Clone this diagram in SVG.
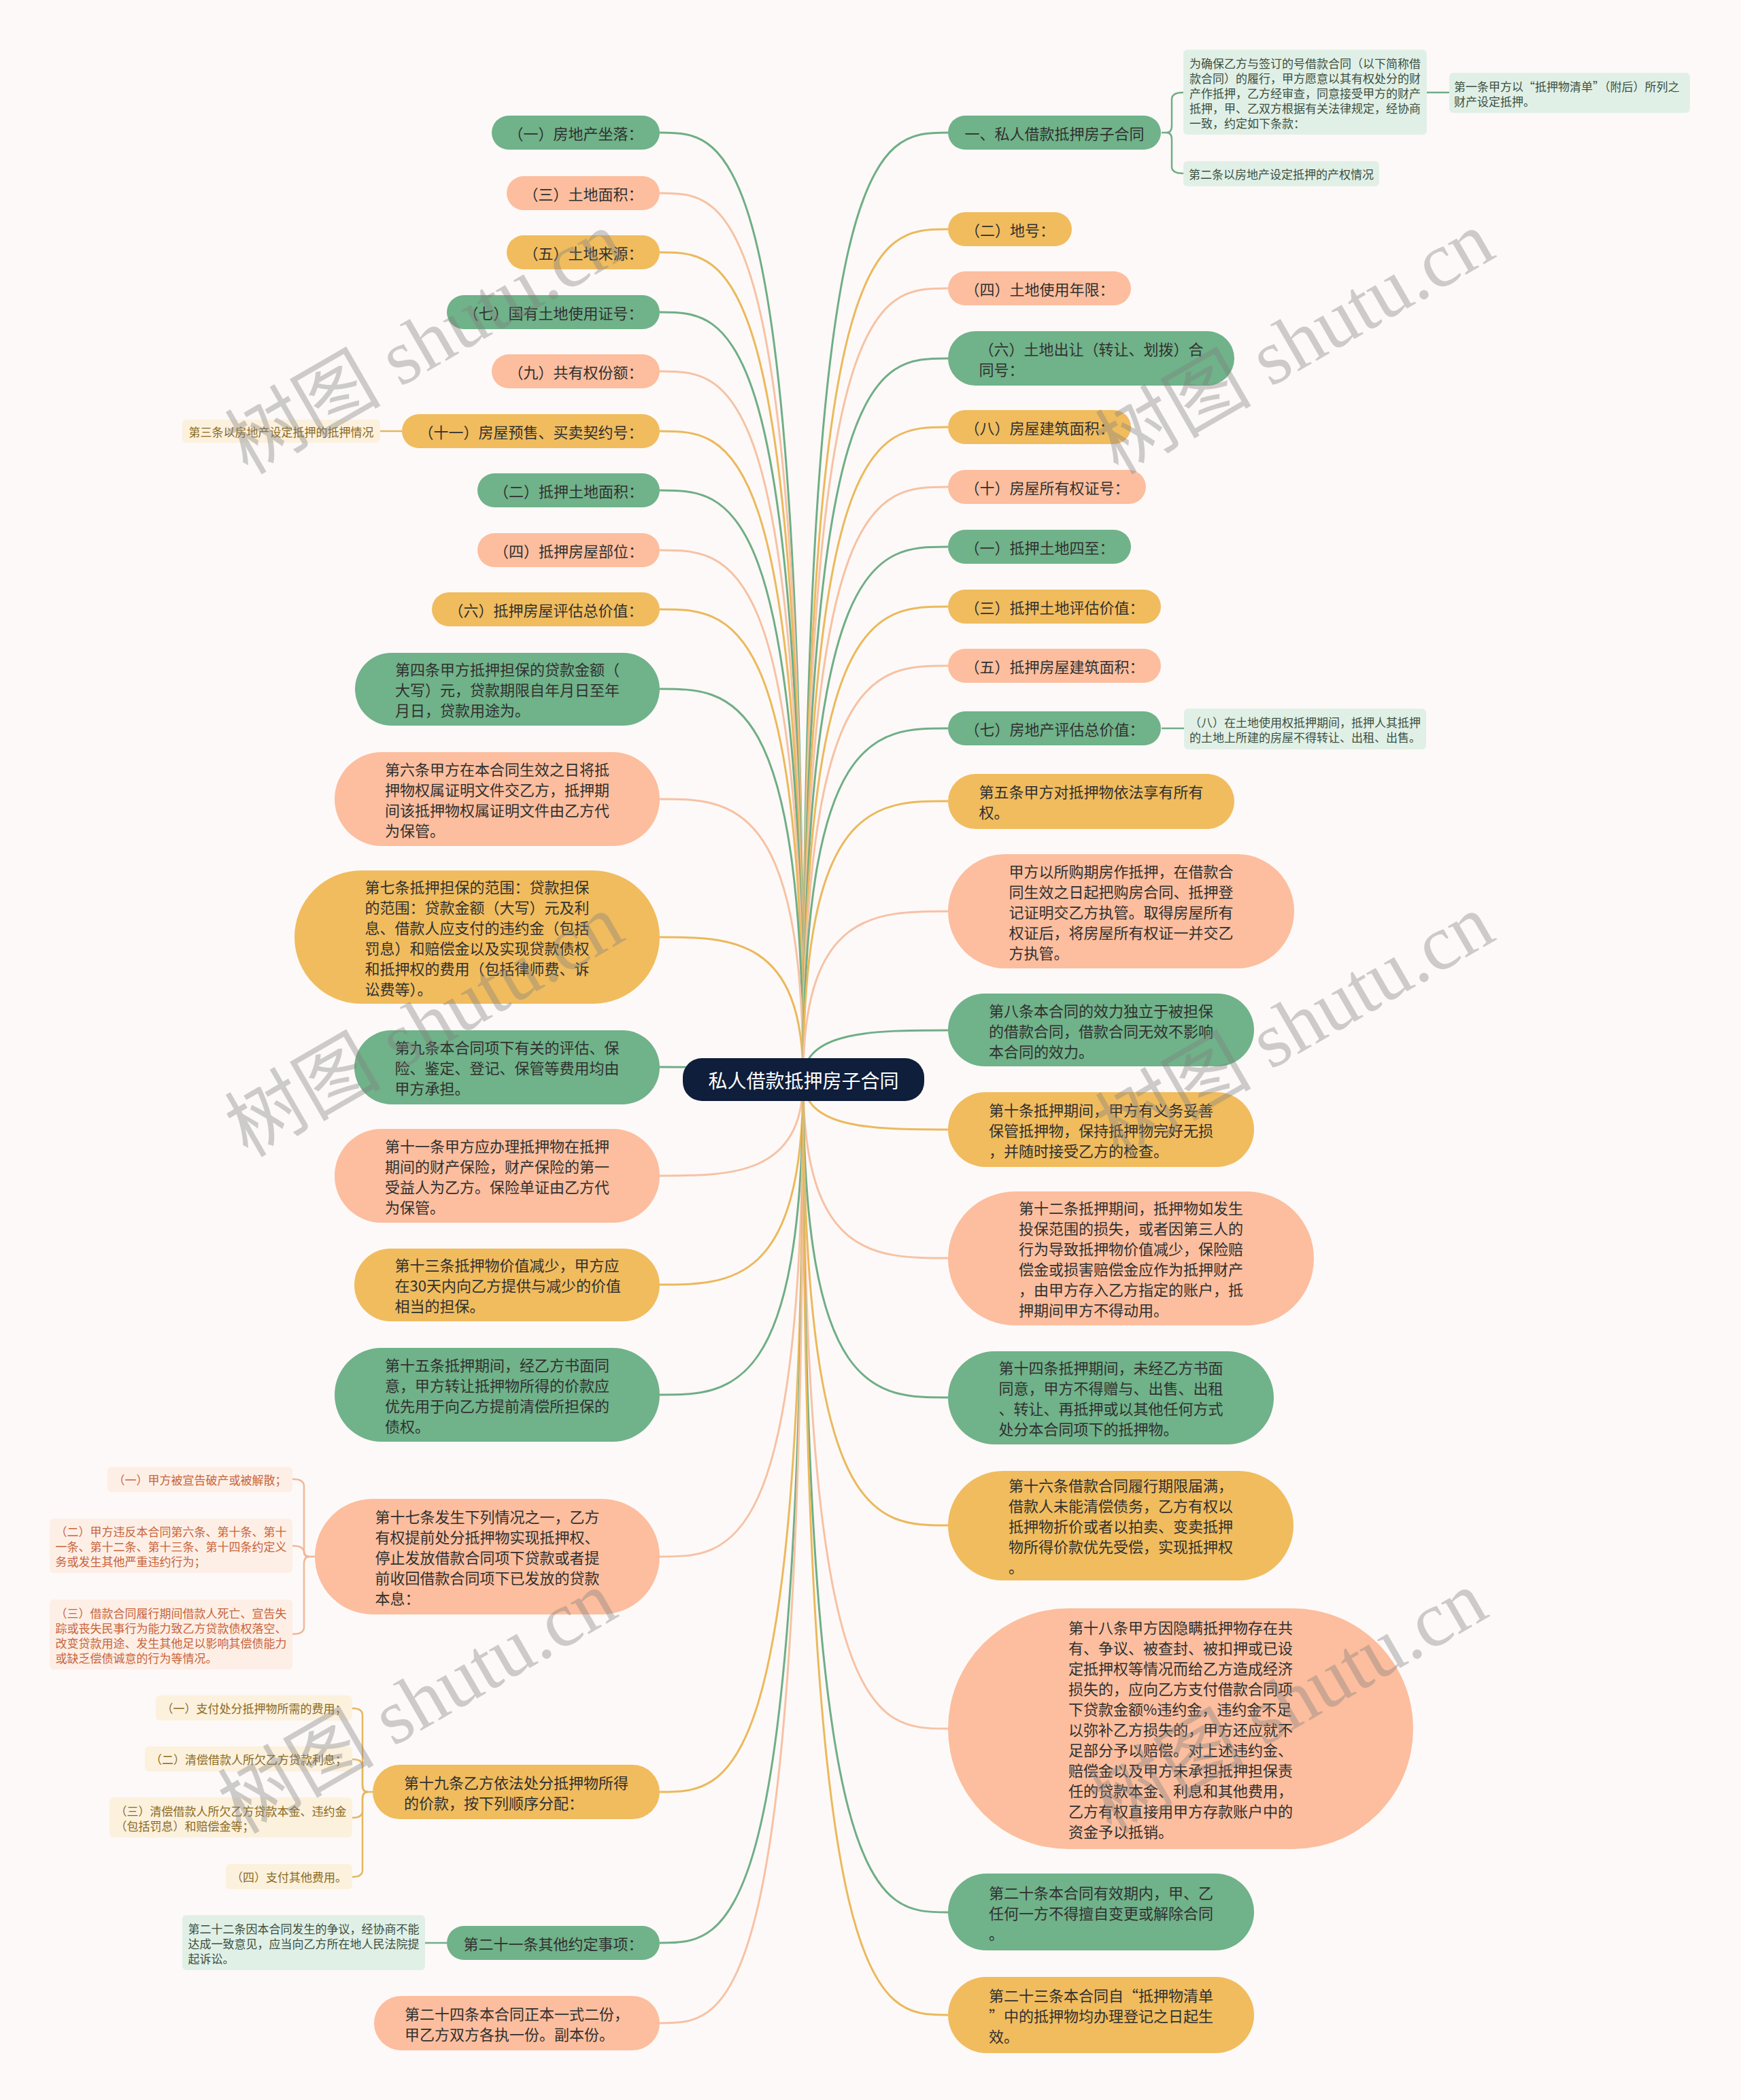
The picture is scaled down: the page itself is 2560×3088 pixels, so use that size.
<svg xmlns="http://www.w3.org/2000/svg" width="2560" height="3088" viewBox="0 0 2560 3088">
<style>
.bg{fill:#fdf9f8}
.g{fill:#70b289}.p{fill:#fcbe9e}.o{fill:#f0bc5e}
.ng{fill:#e1f0e6}.np{fill:#fdefe6}.no{fill:#fcf1dd}
.cg{fill:none;stroke:#6fae86;stroke-width:3}
.cp{fill:none;stroke:#f6c2a4;stroke-width:3}
.co{fill:none;stroke:#ebb95c;stroke-width:3}
.sg{fill:none;stroke:#6fae86;stroke-width:2.5}
.sp{fill:none;stroke:#f0b897;stroke-width:2.5}
.so{fill:none;stroke:#e6b660;stroke-width:2.5}
text{font-family:"Noto Sans CJK SC","Noto Sans",sans-serif;dominant-baseline:central}
.t{font-size:22px;fill:#303030}
.m{text-anchor:middle}
.n{font-size:17px}
.tg{fill:#3b4f41}.tp{fill:#c8643c}.to{fill:#8a6a1f}
.c{font-size:28px;fill:#ffffff}
.wm{font-family:"Liberation Serif","Noto Sans CJK SC",serif;font-size:115px;fill:#808080;opacity:0.38;dominant-baseline:auto}
</style>
<rect class="bg" x="0" y="0" width="2560" height="3088"/>
<g id="connectors">
<path class="cg" d="M1181,1587 C1181,195 1075,195 970,195"/>
<path class="cp" d="M1181,1587 C1181,284 1075,284 970,284"/>
<path class="co" d="M1181,1587 C1181,371 1075,371 970,371"/>
<path class="cg" d="M1181,1587 C1181,459 1075,459 970,459"/>
<path class="cp" d="M1181,1587 C1181,546 1075,546 970,546"/>
<path class="co" d="M1181,1587 C1181,634 1075,634 970,634"/>
<path class="cg" d="M1181,1587 C1181,721 1075,721 970,721"/>
<path class="cp" d="M1181,1587 C1181,809 1075,809 970,809"/>
<path class="co" d="M1181,1587 C1181,896 1075,896 970,896"/>
<path class="cg" d="M1181,1587 C1181,1013 1075,1013 970,1013"/>
<path class="cp" d="M1181,1587 C1181,1175 1075,1175 970,1175"/>
<path class="co" d="M1181,1587 C1181,1378 1075,1378 970,1378"/>
<path class="cg" d="M1181,1587 C1181,1569 1075,1569 970,1569"/>
<path class="cp" d="M1181,1587 C1181,1729 1075,1729 970,1729"/>
<path class="co" d="M1181,1587 C1181,1889 1075,1889 970,1889"/>
<path class="cg" d="M1181,1587 C1181,2051 1075,2051 970,2051"/>
<path class="cp" d="M1181,1587 C1181,2289 1075,2289 970,2289"/>
<path class="co" d="M1181,1587 C1181,2635 1075,2635 970,2635"/>
<path class="cg" d="M1181,1587 C1181,2857 1075,2857 970,2857"/>
<path class="cp" d="M1181,1587 C1181,2975 1075,2975 970,2975"/>
<path class="cg" d="M1181,1587 C1181,195 1287,195 1394,195"/>
<path class="co" d="M1181,1587 C1181,337 1287,337 1394,337"/>
<path class="cp" d="M1181,1587 C1181,424 1287,424 1394,424"/>
<path class="cg" d="M1181,1587 C1181,527 1287,527 1394,527"/>
<path class="co" d="M1181,1587 C1181,628 1287,628 1394,628"/>
<path class="cp" d="M1181,1587 C1181,716 1287,716 1394,716"/>
<path class="cg" d="M1181,1587 C1181,804 1287,804 1394,804"/>
<path class="co" d="M1181,1587 C1181,892 1287,892 1394,892"/>
<path class="cp" d="M1181,1587 C1181,979 1287,979 1394,979"/>
<path class="cg" d="M1181,1587 C1181,1071 1287,1071 1394,1071"/>
<path class="co" d="M1181,1587 C1181,1178 1287,1178 1394,1178"/>
<path class="cp" d="M1181,1587 C1181,1340 1287,1340 1394,1340"/>
<path class="cg" d="M1181,1587 C1181,1515 1287,1515 1394,1515"/>
<path class="co" d="M1181,1587 C1181,1661 1287,1661 1394,1661"/>
<path class="cp" d="M1181,1587 C1181,1850 1287,1850 1394,1850"/>
<path class="cg" d="M1181,1587 C1181,2055 1287,2055 1394,2055"/>
<path class="co" d="M1181,1587 C1181,2243 1287,2243 1394,2243"/>
<path class="cp" d="M1181,1587 C1181,2542 1287,2542 1394,2542"/>
<path class="cg" d="M1181,1587 C1181,2812 1287,2812 1394,2812"/>
<path class="co" d="M1181,1587 C1181,2963 1287,2963 1394,2963"/>
<path class="sg" d="M1708,195 H1715 Q1723,195 1723,185 V146 Q1723,136 1740,136"/>
<path class="sg" d="M1715,195 Q1723,195 1723,205 V245 Q1723,255 1740,255"/>
<path class="sg" d="M2098,136 H2131"/>
<path class="sg" d="M1708,1071 H1741"/>
<path class="so" d="M559,634 H591"/>
<path class="sg" d="M625,2857 H657"/>
<path class="sp" d="M463,2289 H455 Q447,2289 447,2279 V2185 Q447,2175 430,2175"/>
<path class="sp" d="M455,2289 Q447,2289 447,2283 Q447,2273 430,2273"/>
<path class="sp" d="M455,2289 Q447,2289 447,2299 V2393 Q447,2403 430,2403"/>
<path class="so" d="M548,2635 H541 Q533,2635 533,2625 V2522 Q533,2512 518,2512"/>
<path class="so" d="M541,2635 Q533,2635 533,2625 V2597 Q533,2587 518,2587"/>
<path class="so" d="M541,2635 Q533,2635 533,2645 V2663 Q533,2673 518,2673"/>
<path class="so" d="M541,2635 Q533,2635 533,2645 V2750 Q533,2760 518,2760"/>
</g>
<g id="center"><rect x="1004" y="1556" width="355" height="63" rx="28" fill="#0e1e3b"/><text class="c m" x="1181.5" y="1587.5">私人借款抵押房子合同</text></g>
<g id="L1"><rect class="g" x="723" y="170" width="247" height="50" rx="25"/><text class="t m" x="846.5" y="195">（一）房地产坐落：</text></g>
<g id="L2"><rect class="p" x="745" y="259" width="225" height="50" rx="25"/><text class="t m" x="857.5" y="284">（三）土地面积：</text></g>
<g id="L3"><rect class="o" x="745" y="346" width="225" height="50" rx="25"/><text class="t m" x="857.5" y="371">（五）土地来源：</text></g>
<g id="L4"><rect class="g" x="657" y="434" width="313" height="50" rx="25"/><text class="t m" x="813.5" y="459">（七）国有土地使用证号：</text></g>
<g id="L5"><rect class="p" x="723" y="521" width="247" height="50" rx="25"/><text class="t m" x="846.5" y="546">（九）共有权份额：</text></g>
<g id="L6"><rect class="o" x="591" y="609" width="379" height="50" rx="25"/><text class="t m" x="780.5" y="634">（十一）房屋预售、买卖契约号：</text></g>
<g id="L6n"><rect class="no" x="268" y="617" width="291" height="34" rx="6"/><text class="n to m" x="413.5" y="634">第三条以房地产设定抵押的抵押情况</text></g>
<g id="L7"><rect class="g" x="702" y="696" width="268" height="50" rx="25"/><text class="t m" x="836" y="721">（二）抵押土地面积：</text></g>
<g id="L8"><rect class="p" x="702" y="784" width="268" height="50" rx="25"/><text class="t m" x="836" y="809">（四）抵押房屋部位：</text></g>
<g id="L9"><rect class="o" x="635" y="871" width="335" height="50" rx="25"/><text class="t m" x="802.5" y="896">（六）抵押房屋评估总价值：</text></g>
<g id="L10"><rect class="g" x="522" y="960" width="448" height="107" rx="53.5"/><text class="t"><tspan x="581" y="983">第四条甲方抵押担保的贷款金额（</tspan><tspan x="581" y="1013">大写）元，贷款期限自年月日至年</tspan><tspan x="581" y="1043">月日，贷款用途为。</tspan></text></g>
<g id="L11"><rect class="p" x="492" y="1106" width="478" height="138" rx="69"/><text class="t"><tspan x="566" y="1130">第六条甲方在本合同生效之日将抵</tspan><tspan x="566" y="1160">押物权属证明文件交乙方，抵押期</tspan><tspan x="566" y="1190">间该抵押物权属证明文件由乙方代</tspan><tspan x="566" y="1220">为保管。</tspan></text></g>
<g id="L12"><rect class="o" x="433" y="1280" width="537" height="196" rx="98"/><text class="t"><tspan x="536.5" y="1303">第七条抵押担保的范围：贷款担保</tspan><tspan x="536.5" y="1333">的范围：贷款金额（大写）元及利</tspan><tspan x="536.5" y="1363">息、借款人应支付的违约金（包括</tspan><tspan x="536.5" y="1393">罚息）和赔偿金以及实现贷款债权</tspan><tspan x="536.5" y="1423">和抵押权的费用（包括律师费、诉</tspan><tspan x="536.5" y="1453">讼费等）。</tspan></text></g>
<g id="L13"><rect class="g" x="521" y="1515" width="449" height="109" rx="54.5"/><text class="t"><tspan x="580.5" y="1539">第九条本合同项下有关的评估、保</tspan><tspan x="580.5" y="1569">险、鉴定、登记、保管等费用均由</tspan><tspan x="580.5" y="1599">甲方承担。</tspan></text></g>
<g id="L14"><rect class="p" x="492" y="1660" width="478" height="138" rx="69"/><text class="t"><tspan x="566" y="1684">第十一条甲方应办理抵押物在抵押</tspan><tspan x="566" y="1714">期间的财产保险，财产保险的第一</tspan><tspan x="566" y="1744">受益人为乙方。保险单证由乙方代</tspan><tspan x="566" y="1774">为保管。</tspan></text></g>
<g id="L15"><rect class="o" x="521" y="1836" width="449" height="107" rx="53.5"/><text class="t"><tspan x="580.5" y="1859">第十三条抵押物价值减少，甲方应</tspan><tspan x="580.5" y="1889">在30天内向乙方提供与减少的价值</tspan><tspan x="580.5" y="1919">相当的担保。</tspan></text></g>
<g id="L16"><rect class="g" x="492" y="1982" width="478" height="138" rx="69"/><text class="t"><tspan x="566" y="2006">第十五条抵押期间，经乙方书面同</tspan><tspan x="566" y="2036">意，甲方转让抵押物所得的价款应</tspan><tspan x="566" y="2066">优先用于向乙方提前清偿所担保的</tspan><tspan x="566" y="2096">债权。</tspan></text></g>
<g id="L17"><rect class="p" x="463" y="2204" width="507" height="170" rx="85"/><text class="t"><tspan x="551.5" y="2229">第十七条发生下列情况之一，乙方</tspan><tspan x="551.5" y="2259">有权提前处分抵押物实现抵押权、</tspan><tspan x="551.5" y="2289">停止发放借款合同项下贷款或者提</tspan><tspan x="551.5" y="2319">前收回借款合同项下已发放的贷款</tspan><tspan x="551.5" y="2349">本息：</tspan></text></g>
<g id="L17a"><rect class="np" x="158" y="2157" width="272" height="37" rx="6"/><text class="n tp m" x="294" y="2175.5">（一）甲方被宣告破产或被解散；</text></g>
<g id="L17b"><rect class="np" x="73" y="2233" width="357" height="80" rx="6"/><text class="n tp"><tspan x="81.5" y="2251">（二）甲方违反本合同第六条、第十条、第十</tspan><tspan x="81.5" y="2273">一条、第十二条、第十三条、第十四条约定义</tspan><tspan x="81.5" y="2295">务或发生其他严重违约行为；</tspan></text></g>
<g id="L17c"><rect class="np" x="73" y="2352" width="357" height="103" rx="6"/><text class="n tp"><tspan x="81.5" y="2370.5">（三）借款合同履行期间借款人死亡、宣告失</tspan><tspan x="81.5" y="2392.5">踪或丧失民事行为能力致乙方贷款债权落空、</tspan><tspan x="81.5" y="2414.5">改变贷款用途、发生其他足以影响其偿债能力</tspan><tspan x="81.5" y="2436.5">或缺乏偿债诚意的行为等情况。</tspan></text></g>
<g id="L18"><rect class="o" x="548" y="2595" width="422" height="80" rx="40"/><text class="t"><tspan x="594" y="2620">第十九条乙方依法处分抵押物所得</tspan><tspan x="594" y="2650">的价款，按下列顺序分配：</tspan></text></g>
<g id="L18a"><rect class="no" x="229" y="2493" width="289" height="37" rx="6"/><text class="n to m" x="373.5" y="2511.5">（一）支付处分抵押物所需的费用；</text></g>
<g id="L18b"><rect class="no" x="213" y="2568" width="305" height="37" rx="6"/><text class="n to m" x="365.5" y="2586.5">（二）清偿借款人所欠乙方贷款利息；</text></g>
<g id="L18c"><rect class="no" x="161" y="2643" width="357" height="59" rx="6"/><text class="n to"><tspan x="169.5" y="2661.5">（三）清偿借款人所欠乙方贷款本金、违约金</tspan><tspan x="169.5" y="2683.5">（包括罚息）和赔偿金等；</tspan></text></g>
<g id="L18d"><rect class="no" x="332" y="2741" width="186" height="37" rx="6"/><text class="n to m" x="425" y="2759.5">（四）支付其他费用。</text></g>
<g id="L19"><rect class="g" x="657" y="2832" width="313" height="50" rx="25"/><text class="t m" x="813.5" y="2857">第二十一条其他约定事项：</text></g>
<g id="L19n"><rect class="ng" x="268" y="2816" width="357" height="81" rx="6"/><text class="n tg"><tspan x="276.5" y="2834.5">第二十二条因本合同发生的争议，经协商不能</tspan><tspan x="276.5" y="2856.5">达成一致意见，应当向乙方所在地人民法院提</tspan><tspan x="276.5" y="2878.5">起诉讼。</tspan></text></g>
<g id="L20"><rect class="p" x="550" y="2935" width="420" height="80" rx="40"/><text class="t"><tspan x="595" y="2960">第二十四条本合同正本一式二份，</tspan><tspan x="595" y="2990">甲乙方双方各执一份。副本份。</tspan></text></g>
<g id="R1"><rect class="g" x="1394" y="170" width="313" height="50" rx="25"/><text class="t m" x="1550.5" y="195">一、私人借款抵押房子合同</text></g>
<g id="R1a"><rect class="ng" x="1740" y="73" width="358" height="125" rx="6"/><text class="n tg"><tspan x="1749" y="91.5">为确保乙方与签订的号借款合同（以下简称借</tspan><tspan x="1749" y="113.5">款合同）的履行，甲方愿意以其有权处分的财</tspan><tspan x="1749" y="135.5">产作抵押，乙方经审查，同意接受甲方的财产</tspan><tspan x="1749" y="157.5">抵押，甲、乙双方根据有关法律规定，经协商</tspan><tspan x="1749" y="179.5">一致，约定如下条款：</tspan></text></g>
<g id="R1b"><rect class="ng" x="2131" y="107" width="354" height="59" rx="6"/><text class="n tg"><tspan x="2138" y="125.5">第一条甲方以“抵押物清单”（附后）所列之</tspan><tspan x="2138" y="147.5">财产设定抵押。</tspan></text></g>
<g id="R1c"><rect class="ng" x="1740" y="237" width="288" height="37" rx="6"/><text class="n tg m" x="1884" y="255.5">第二条以房地产设定抵押的产权情况</text></g>
<g id="R2"><rect class="o" x="1394" y="312" width="182" height="50" rx="25"/><text class="t m" x="1485" y="337">（二）地号：</text></g>
<g id="R3"><rect class="p" x="1394" y="399" width="269" height="50" rx="25"/><text class="t m" x="1528.5" y="424">（四）土地使用年限：</text></g>
<g id="R4"><rect class="g" x="1394" y="487" width="421" height="80" rx="40"/><text class="t"><tspan x="1439.5" y="512">（六）土地出让（转让、划拨）合</tspan><tspan x="1439.5" y="542">同号：</tspan></text></g>
<g id="R5"><rect class="o" x="1394" y="603" width="269" height="50" rx="25"/><text class="t m" x="1528.5" y="628">（八）房屋建筑面积：</text></g>
<g id="R6"><rect class="p" x="1394" y="691" width="291" height="50" rx="25"/><text class="t m" x="1539.5" y="716">（十）房屋所有权证号：</text></g>
<g id="R7"><rect class="g" x="1394" y="779" width="269" height="50" rx="25"/><text class="t m" x="1528.5" y="804">（一）抵押土地四至：</text></g>
<g id="R8"><rect class="o" x="1394" y="867" width="313" height="50" rx="25"/><text class="t m" x="1550.5" y="892">（三）抵押土地评估价值：</text></g>
<g id="R9"><rect class="p" x="1394" y="954" width="313" height="50" rx="25"/><text class="t m" x="1550.5" y="979">（五）抵押房屋建筑面积：</text></g>
<g id="R10"><rect class="g" x="1394" y="1046" width="313" height="50" rx="25"/><text class="t m" x="1550.5" y="1071">（七）房地产评估总价值：</text></g>
<g id="R10n"><rect class="ng" x="1741" y="1042" width="356" height="60" rx="6"/><text class="n tg"><tspan x="1749" y="1061">（八）在土地使用权抵押期间，抵押人其抵押</tspan><tspan x="1749" y="1083">的土地上所建的房屋不得转让、出租、出售。</tspan></text></g>
<g id="R11"><rect class="o" x="1394" y="1138" width="421" height="81" rx="40.5"/><text class="t"><tspan x="1439.5" y="1163">第五条甲方对抵押物依法享有所有</tspan><tspan x="1439.5" y="1193">权。</tspan></text></g>
<g id="R12"><rect class="p" x="1394" y="1256" width="509" height="168" rx="84"/><text class="t"><tspan x="1483.5" y="1280">甲方以所购期房作抵押，在借款合</tspan><tspan x="1483.5" y="1310">同生效之日起把购房合同、抵押登</tspan><tspan x="1483.5" y="1340">记证明交乙方执管。取得房屋所有</tspan><tspan x="1483.5" y="1370">权证后，将房屋所有权证一并交乙</tspan><tspan x="1483.5" y="1400">方执管。</tspan></text></g>
<g id="R13"><rect class="g" x="1394" y="1461" width="450" height="107" rx="53.5"/><text class="t"><tspan x="1454" y="1485">第八条本合同的效力独立于被担保</tspan><tspan x="1454" y="1515">的借款合同，借款合同无效不影响</tspan><tspan x="1454" y="1545">本合同的效力。</tspan></text></g>
<g id="R14"><rect class="o" x="1394" y="1606" width="450" height="110" rx="55"/><text class="t"><tspan x="1454" y="1631">第十条抵押期间，甲方有义务妥善</tspan><tspan x="1454" y="1661">保管抵押物，保持抵押物完好无损</tspan><tspan x="1454" y="1691">，并随时接受乙方的检查。</tspan></text></g>
<g id="R15"><rect class="p" x="1394" y="1752" width="538" height="197" rx="98.5"/><text class="t"><tspan x="1498" y="1775">第十二条抵押期间，抵押物如发生</tspan><tspan x="1498" y="1805">投保范围的损失，或者因第三人的</tspan><tspan x="1498" y="1835">行为导致抵押物价值减少，保险赔</tspan><tspan x="1498" y="1865">偿金或损害赔偿金应作为抵押财产</tspan><tspan x="1498" y="1895">，由甲方存入乙方指定的账户，抵</tspan><tspan x="1498" y="1925">押期间甲方不得动用。</tspan></text></g>
<g id="R16"><rect class="g" x="1394" y="1987" width="479" height="137" rx="68.5"/><text class="t"><tspan x="1468.5" y="2010">第十四条抵押期间，未经乙方书面</tspan><tspan x="1468.5" y="2040">同意，甲方不得赠与、出售、出租</tspan><tspan x="1468.5" y="2070">、转让、再抵押或以其他任何方式</tspan><tspan x="1468.5" y="2100">处分本合同项下的抵押物。</tspan></text></g>
<g id="R17"><rect class="o" x="1394" y="2163" width="508" height="161" rx="80.5"/><text class="t"><tspan x="1483" y="2183">第十六条借款合同履行期限届满，</tspan><tspan x="1483" y="2213">借款人未能清偿债务，乙方有权以</tspan><tspan x="1483" y="2243">抵押物折价或者以拍卖、变卖抵押</tspan><tspan x="1483" y="2273">物所得价款优先受偿，实现抵押权</tspan><tspan x="1483" y="2303">。</tspan></text></g>
<g id="R18"><rect class="p" x="1394" y="2365" width="684" height="354" rx="177"/><text class="t"><tspan x="1571" y="2392">第十八条甲方因隐瞒抵押物存在共</tspan><tspan x="1571" y="2422">有、争议、被查封、被扣押或已设</tspan><tspan x="1571" y="2452">定抵押权等情况而给乙方造成经济</tspan><tspan x="1571" y="2482">损失的，应向乙方支付借款合同项</tspan><tspan x="1571" y="2512">下贷款金额%违约金，违约金不足</tspan><tspan x="1571" y="2542">以弥补乙方损失的，甲方还应就不</tspan><tspan x="1571" y="2572">足部分予以赔偿。对上述违约金、</tspan><tspan x="1571" y="2602">赔偿金以及甲方未承担抵押担保责</tspan><tspan x="1571" y="2632">任的贷款本金、利息和其他费用，</tspan><tspan x="1571" y="2662">乙方有权直接用甲方存款账户中的</tspan><tspan x="1571" y="2692">资金予以抵销。</tspan></text></g>
<g id="R19"><rect class="g" x="1394" y="2755" width="450" height="113" rx="56.5"/><text class="t"><tspan x="1454" y="2782">第二十条本合同有效期内，甲、乙</tspan><tspan x="1454" y="2812">任何一方不得擅自变更或解除合同</tspan><tspan x="1454" y="2842">。</tspan></text></g>
<g id="R20"><rect class="o" x="1394" y="2907" width="450" height="112" rx="56"/><text class="t"><tspan x="1454" y="2933">第二十三条本合同自“抵押物清单</tspan><tspan x="1454" y="2963">”中的抵押物均办理登记之日起生</tspan><tspan x="1454" y="2993">效。</tspan></text></g>
<g id="watermarks">
<text class="wm" transform="translate(364,699) rotate(-30)">树图 shutu.cn</text>
<text class="wm" transform="translate(1644,699) rotate(-30)">树图 shutu.cn</text>
<text class="wm" transform="translate(364,1703) rotate(-30)">树图 shutu.cn</text>
<text class="wm" transform="translate(1644,1703) rotate(-30)">树图 shutu.cn</text>
<text class="wm" transform="translate(354,2698) rotate(-30)">树图 shutu.cn</text>
<text class="wm" transform="translate(1634,2698) rotate(-30)">树图 shutu.cn</text>
</g>
</svg>
